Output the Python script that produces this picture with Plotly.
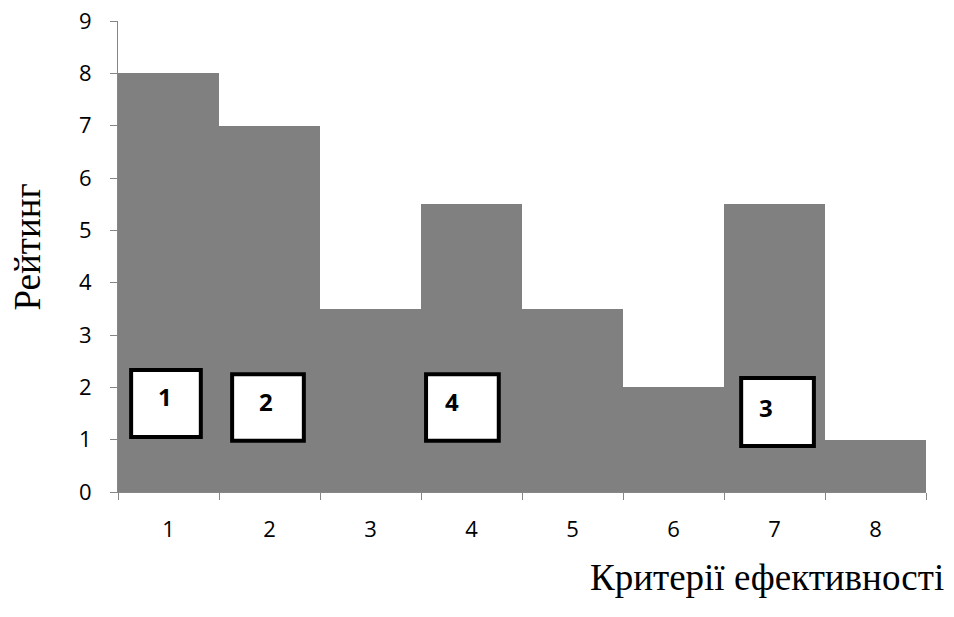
import plotly.graph_objects as go

# Rating of each efficiency criterion
criteria = ["1", "2", "3", "4", "5", "6", "7", "8"]
rating = [8, 7, 3.5, 5.5, 3.5, 2, 5.5, 1]

# Numbered marker boxes drawn over selected bars (category index, box span, label)
box_labels = ["1", "2", "4", "3"]
box_x0 = [-0.37, 0.63, 2.55, 5.67]
box_x1 = [0.32, 1.34, 3.27, 6.39]
box_y0 = [1.05, 0.98, 0.98, 0.88]
box_y1 = [2.33, 2.25, 2.25, 2.18]
label_x = [-0.03, 0.97, 2.81, 5.92]
label_y = [1.82, 1.72, 1.72, 1.61]

fig = go.Figure()
fig.add_trace(go.Bar(
    x=criteria,
    y=rating,
    marker=dict(color="#808080", line=dict(width=0)),
    hoverinfo="x+y",
))

for lab, x0, x1, y0, y1, lx, ly in zip(box_labels, box_x0, box_x1, box_y0, box_y1, label_x, label_y):
    fig.add_shape(type="rect", xref="x", yref="y", x0=x0, x1=x1, y0=y0, y1=y1,
                  fillcolor="white", line=dict(color="black", width=4), layer="above")
    fig.add_annotation(x=lx, y=ly, xref="x", yref="y", text="<b>%s</b>" % lab,
                       showarrow=False, font=dict(family="Open Sans", size=24, color="black"))

fig.add_annotation(text="Рейтинг", xref="paper", yref="paper", x=-0.112, y=0.52,
                   xanchor="center", yanchor="middle", textangle=-90, showarrow=False,
                   font=dict(family="Liberation Serif", size=37, color="black"))
fig.add_annotation(text="Критерії ефективності", xref="paper", yref="paper", x=1.025, y=-0.182,
                   xanchor="right", yanchor="middle", showarrow=False,
                   font=dict(family="Liberation Serif", size=37, color="black"))

fig.update_layout(
    width=954, height=617,
    margin=dict(l=118, r=28, t=21, b=125),
    paper_bgcolor="white", plot_bgcolor="white",
    bargap=0,
    showlegend=False,
    font=dict(family="Open Sans", size=22, color="black"),
)
fig.update_xaxes(
    type="category", tickson="boundaries", ticks="outside", ticklen=7,
    tickcolor="#868686", showline=True, linecolor="#868686", linewidth=1,
    showgrid=False, zeroline=False, ticklabelstandoff=18, automargin=False,
    tickfont=dict(family="Open Sans", size=22, color="black"),
)
fig.update_yaxes(
    range=[0, 9], dtick=1, ticks="outside", ticklen=7, tickcolor="#868686",
    showline=True, linecolor="#868686", linewidth=1, showgrid=False,
    zeroline=False, ticklabelstandoff=14, automargin=False,
    tickfont=dict(family="Open Sans", size=22, color="black"),
)

fig.write_html("out.html")
